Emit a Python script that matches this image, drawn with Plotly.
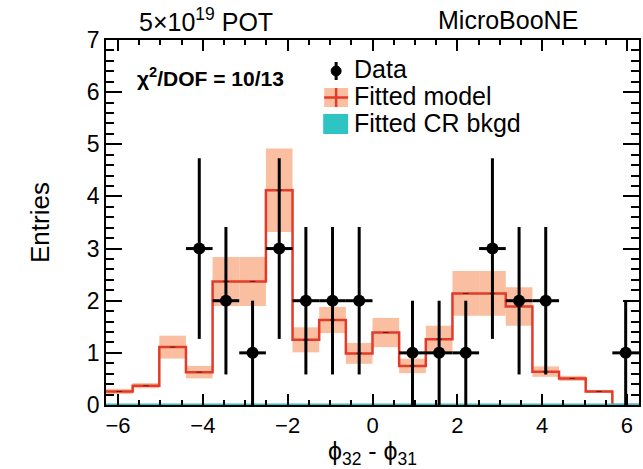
import numpy as np
import plotly.graph_objects as go

# Histogram binning: 20 bins spanning [-2pi, 2pi]
n_bins = 20
x_lo, x_hi = -2 * np.pi, 2 * np.pi

# Observed counts per bin
data_counts = [0, 0, 0, 3, 2, 1, 3, 2, 2, 2, 0, 1, 1, 1, 3, 2, 2, 0, 0, 1]

# Fitted model prediction and its uncertainty per bin
model_vals = [0.26, 0.37, 1.11, 0.63, 2.37, 2.37, 4.12, 1.25, 1.63, 0.99,
              1.39, 0.75, 1.26, 2.14, 2.14, 1.89, 0.64, 0.51, 0.26, 0.0]
model_errs = [0.05, 0.05, 0.22, 0.12, 0.47, 0.47, 0.80, 0.24, 0.25, 0.20,
              0.28, 0.14, 0.26, 0.43, 0.43, 0.37, 0.10, 0.05, 0.03, 0.0]

# Fitted cosmic-ray control-region background per bin
cr_bkgd = [0.0, 0.0, 0.0, 0.0, 0.0, 0.0, 0.0, 0.0, 0.0, 0.0,
           0.0, 0.0, 0.0, 0.0, 0.0, 0.0, 0.0, 0.0, 0.0, 0.0]

x_ticks = [-6, -4, -2, 0, 2, 4, 6]
y_ticks = [0, 1, 2, 3, 4, 5, 6, 7]

edges = np.linspace(x_lo, x_hi, n_bins + 1)
centers = 0.5 * (edges[:-1] + edges[1:])
binw = edges[1] - edges[0]

counts = np.array(data_counts, dtype=float)
mvals = np.array(model_vals)
merrs = np.array(model_errs)

BAND = "#f9bfa0"
RED = "#e33a2a"
CYAN = "#2ec4c4"
FONT = "Liberation Sans, Arial, Helvetica, sans-serif"

W, H = 643, 469
L, R, T, B = 106, 2, 40, 64
PW, PH = W - L - R, H - T - B


def px(x):
    return (x - L) / PW


def py(y):
    return (H - B - y) / PH


fig = go.Figure()

# model uncertainty band
fig.add_trace(go.Bar(
    x=centers, y=2 * merrs, base=mvals - merrs, width=binw,
    marker=dict(color=BAND, line=dict(width=0)),
    showlegend=False, hoverinfo="skip",
))

# model histogram outline
fig.add_trace(go.Scatter(
    x=edges, y=np.append(mvals, mvals[-1]), mode="lines",
    line=dict(color=RED, width=2.5, shape="hv"),
    showlegend=False, hoverinfo="skip",
))

# small central markers of the model histogram
fig.add_trace(go.Scatter(
    x=centers, y=mvals, mode="markers",
    marker=dict(symbol="line-ew", size=4, line=dict(color="#602018", width=1)),
    showlegend=False, hoverinfo="skip",
))

# CR background histogram
cr = np.array(cr_bkgd)
fig.add_trace(go.Scatter(
    x=edges, y=np.append(cr, cr[-1]), mode="lines",
    line=dict(color=CYAN, width=3, shape="hv"),
    showlegend=False, hoverinfo="skip", cliponaxis=False,
))

# data points with Poisson errors (empty bins not drawn)
mask = counts > 0
fig.add_trace(go.Scatter(
    x=centers[mask], y=counts[mask], mode="markers",
    marker=dict(color="black", size=12, symbol="circle"),
    error_y=dict(type="data", array=np.sqrt(counts[mask]), color="black",
                 thickness=3, width=0),
    error_x=dict(type="constant", value=binw / 2, color="black",
                 thickness=3, width=0),
    showlegend=False, hoverinfo="skip",
))

shapes = []
# legend: data
shapes.append(dict(type="line", xref="paper", yref="paper",
                   x0=px(337), x1=px(337), y0=py(62), y1=py(80),
                   line=dict(color="black", width=3)))
shapes.append(dict(type="circle", xref="paper", yref="paper",
                   x0=px(332), x1=px(342), y0=py(66), y1=py(76),
                   fillcolor="black", line=dict(color="black", width=1)))
# legend: fitted model
shapes.append(dict(type="rect", xref="paper", yref="paper",
                   x0=px(325), x1=px(349), y0=py(107), y1=py(88),
                   fillcolor=BAND, line=dict(width=0)))
shapes.append(dict(type="line", xref="paper", yref="paper",
                   x0=px(325), x1=px(349), y0=py(97.5), y1=py(97.5),
                   line=dict(color=RED, width=2.5)))
shapes.append(dict(type="line", xref="paper", yref="paper",
                   x0=px(337), x1=px(337), y0=py(88), y1=py(107),
                   line=dict(color=RED, width=2.5)))
# legend: CR background
shapes.append(dict(type="rect", xref="paper", yref="paper",
                   x0=px(324), x1=px(349), y0=py(134), y1=py(114),
                   fillcolor=CYAN, line=dict(width=0)))

LEG = 25
annotations = [
    dict(text="Data", x=px(353), y=py(69.5), xref="paper", yref="paper",
         xanchor="left", yanchor="middle", showarrow=False,
         font=dict(size=LEG, color="black", family=FONT)),
    dict(text="Fitted model", x=px(353), y=py(96), xref="paper", yref="paper",
         xanchor="left", yanchor="middle", showarrow=False,
         font=dict(size=LEG, color="black", family=FONT)),
    dict(text="Fitted CR bkgd", x=px(353), y=py(122.5), xref="paper", yref="paper",
         xanchor="left", yanchor="middle", showarrow=False,
         font=dict(size=LEG, color="black", family=FONT)),
    dict(text="<b>χ<sup>2</sup>/DOF = 10/13</b>", x=px(135), y=py(77),
         xref="paper", yref="paper", xanchor="left", yanchor="middle",
         showarrow=False, font=dict(size=21, color="black", family=FONT)),
    dict(text="5×10<sup>19</sup> POT", x=px(137), y=py(20),
         xref="paper", yref="paper", xanchor="left", yanchor="middle",
         showarrow=False, font=dict(size=25, color="black", family=FONT)),
    dict(text="MicroBooNE", x=px(437), y=py(20),
         xref="paper", yref="paper", xanchor="left", yanchor="middle",
         showarrow=False, font=dict(size=25, color="black", family=FONT)),
]

fig.update_layout(
    width=W, height=H,
    margin=dict(l=L, r=R, t=T, b=B),
    paper_bgcolor="white", plot_bgcolor="white",
    showlegend=False, barmode="overlay",
    shapes=shapes, annotations=annotations,
    font=dict(family=FONT, color="black"),
)

fig.update_xaxes(
    range=[x_lo, x_hi], tickvals=x_ticks,
    ticks="inside", ticklen=11, tickwidth=1.5, tickcolor="black",
    minor=dict(dtick=0.5, tick0=0, ticks="inside", ticklen=5.5,
               tickwidth=1.5, tickcolor="black", showgrid=False),
    showline=True, linecolor="black", linewidth=1.5, mirror="ticks",
    showgrid=False, zeroline=False, layer="above traces",
    tickfont=dict(size=22, family=FONT, color="black"),
    title=dict(text="ϕ<sub>32</sub> - ϕ<sub>31</sub>",
               font=dict(size=25, family=FONT, color="black"), standoff=7),
)
fig.update_yaxes(
    range=[0, 7], tickvals=y_ticks,
    ticks="inside", ticklen=16, tickwidth=1.5, tickcolor="black",
    minor=dict(dtick=0.2, tick0=0, ticks="inside", ticklen=8,
               tickwidth=1.5, tickcolor="black", showgrid=False),
    showline=True, linecolor="black", linewidth=1.5, mirror="ticks",
    showgrid=False, zeroline=False, layer="above traces",
    tickfont=dict(size=23, family=FONT, color="black"),
    title=dict(text="Entries", font=dict(size=26, family=FONT, color="black"),
               standoff=30),
)

fig.write_html("out.html")
